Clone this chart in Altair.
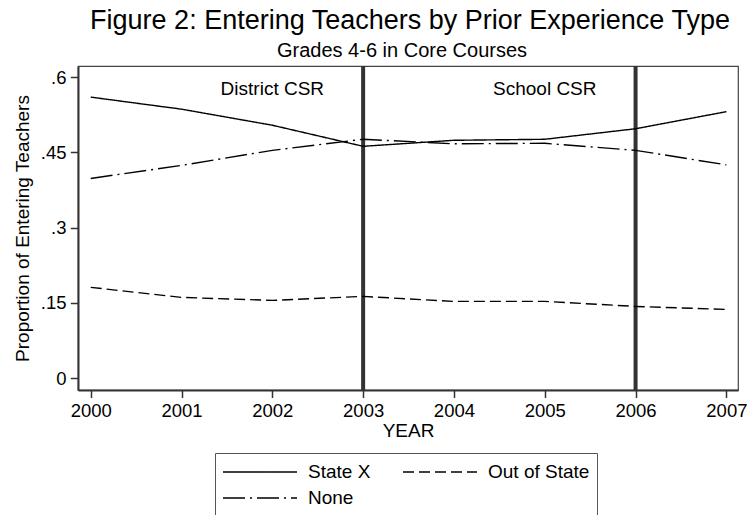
import altair as alt
import pandas as pd

# ---- data ----
years = [2000, 2001, 2002, 2003, 2004, 2005, 2006, 2007]
state_x = [0.560, 0.536, 0.504, 0.462, 0.474, 0.476, 0.497, 0.531]
out_of_state = [0.181, 0.161, 0.155, 0.163, 0.153, 0.153, 0.143, 0.137]
none_vals = [0.398, 0.424, 0.454, 0.476, 0.467, 0.468, 0.454, 0.425]
series_names = ["State X", "None", "Out of State"]   # legend fills column-wise
series_dash = [[1, 0], [22, 5, 2, 5], [11, 5]]
policy_years = [2003, 2006]
policy_labels = ["District CSR", "School CSR"]
label_years = [2002, 2005]
y_ticks = [0, 0.15, 0.3, 0.45, 0.6]
title_text = ["Figure 2: Entering Teachers by Prior Experience Type"]
subtitle_text = ["Grades 4-6 in Core Courses"]

rows = []
for name, vals in zip(["State X", "Out of State", "None"], [state_x, out_of_state, none_vals]):
    for yr, v in zip(years, vals):
        rows.append({"year": yr, "value": v, "series": name})
df = pd.DataFrame(rows)
policy_df = pd.DataFrame({"year": policy_years})
label_df = pd.DataFrame({"year": label_years, "label": policy_labels})

FONT = "Liberation Sans"
W, H = 660, 324

xscale = alt.Scale(domain=[1999.86, 2007.128], nice=False, zero=False)
yscale = alt.Scale(domain=[-0.0235, 0.622], nice=False, zero=False)

lines = alt.Chart(df).mark_line(color="black", strokeWidth=1.4).encode(
    x=alt.X("year:Q", scale=xscale,
            axis=alt.Axis(values=years, format="d", title="YEAR",
                          tickSize=7.5, labelPadding=3.5,
                          titleY=46, titleBaseline="alphabetic")),
    y=alt.Y("value:Q", scale=yscale,
            axis=alt.Axis(values=y_ticks,
                          labelExpr="datum.value == 0 ? '0' : slice(format(datum.value, '.2~f'), 1)",
                          title="Proportion of Entering Teachers",
                          tickSize=7.7, labelPadding=4.3,
                          titleX=-49.7, titleY=H / 2, titleBaseline="alphabetic",
                          titleAlign="center")),
    strokeDash=alt.StrokeDash(
        "series:N",
        scale=alt.Scale(domain=series_names, range=series_dash),
        legend=alt.Legend(title=None, orient="none", legendX=137, legendY=387,
                          columns=2, symbolType="stroke", symbolSize=5476,
                          symbolStrokeWidth=1.4, symbolStrokeColor="black",
                          labelFont=FONT, labelFontSize=19, labelColor="black",
                          labelOffset=10, columnPadding=31, rowPadding=2,
                          padding=7, strokeColor="#555", fillColor="white",
                          clipHeight=24, labelLimit=0),
    ),
    detail="series:N",
)

rules = alt.Chart(policy_df).mark_rule(color="#333333", strokeWidth=4).encode(
    x=alt.X("year:Q", scale=xscale)
)

labels = alt.Chart(label_df).mark_text(
    font=FONT, fontSize=19, color="black", baseline="alphabetic"
).encode(
    x=alt.X("year:Q", scale=xscale),
    y=alt.value(28.5),
    text="label:N",
)

title_mark = alt.Chart(pd.DataFrame({"t": title_text})).mark_text(
    font=FONT, fontSize=27, color="black", baseline="alphabetic", align="center"
).encode(x=alt.value(332), y=alt.value(-37), text="t:N")

subtitle_mark = alt.Chart(pd.DataFrame({"t": subtitle_text})).mark_text(
    font=FONT, fontSize=20, color="black", baseline="alphabetic", align="center"
).encode(x=alt.value(324), y=alt.value(-9), text="t:N")

chart = alt.layer(rules, lines, labels, title_mark, subtitle_mark).properties(
    width=W, height=H,
    padding={"left": 78, "top": 66, "right": 9, "bottom": 125},
    autosize=alt.AutoSizeParams(type="none"),
    background="white",
).configure_view(
    stroke="#444444", strokeWidth=1.2
).configure_axis(
    labelFont=FONT, labelFontSize=18.5, labelColor="black",
    titleFont=FONT, titleFontSize=19, titleColor="black", titleFontWeight="normal",
    domainColor="#333333", domainWidth=2, tickColor="#333333", tickWidth=1.5,
    grid=False,
)

chart.save("out.html", embed_options={"renderer": "svg", "actions": False})
